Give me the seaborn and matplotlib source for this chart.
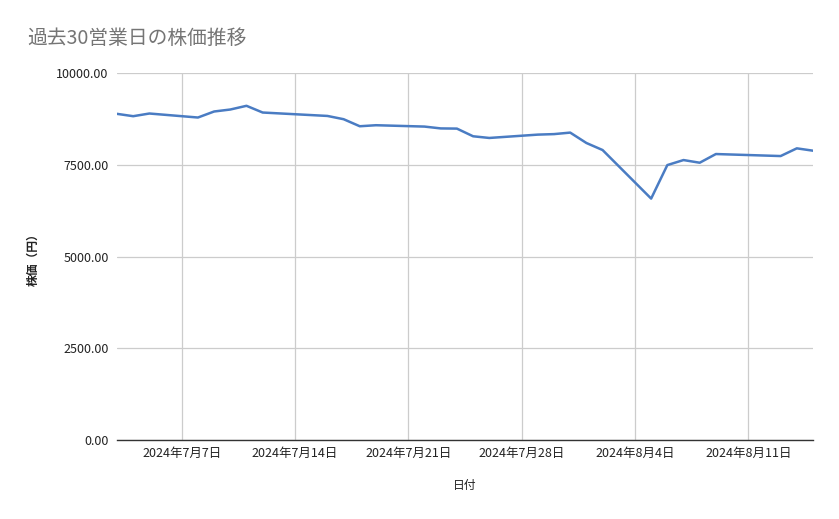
import matplotlib
matplotlib.use("Agg")
import matplotlib.pyplot as plt
import seaborn as sns
import pandas as pd

dates = [
    "2024-07-03", "2024-07-04", "2024-07-05",
    "2024-07-08", "2024-07-09", "2024-07-10", "2024-07-11", "2024-07-12",
    "2024-07-16", "2024-07-17", "2024-07-18", "2024-07-19",
    "2024-07-22", "2024-07-23", "2024-07-24", "2024-07-25", "2024-07-26",
    "2024-07-29", "2024-07-30", "2024-07-31", "2024-08-01", "2024-08-02",
    "2024-08-05", "2024-08-06", "2024-08-07", "2024-08-08", "2024-08-09",
    "2024-08-13", "2024-08-14", "2024-08-15",
]
prices = [
    8887, 8823, 8896,
    8787, 8951, 9005, 9106, 8923,
    8830, 8741, 8549, 8577,
    8540, 8490, 8485, 8276, 8230,
    8321, 8335, 8376, 8093, 7901,
    6578, 7491, 7628, 7555, 7792,
    7737, 7947, 7883,
]
tick_dates = ["2024-07-07", "2024-07-14", "2024-07-21", "2024-07-28", "2024-08-04", "2024-08-11"]
y_ticks = [0, 2500, 5000, 7500, 10000]

title = "過去30営業日の株価推移"
x_label = "日付"
y_label = "株価（円）"

df = pd.DataFrame({"日付": pd.to_datetime(dates), "株価": prices})

sns.set_theme(style="white")
plt.rcParams["font.family"] = ["Noto Sans CJK JP", "DejaVu Sans"]

fig = plt.figure(figsize=(8.39, 5.19), dpi=100)
ax = fig.add_axes([117 / 839, 79 / 519, 696 / 839, 367 / 519])

sns.lineplot(data=df, x="日付", y="株価", ax=ax, color="#4a7cc3", linewidth=1.8)

ax.set_xlim(df["日付"].min(), df["日付"].max())
ax.set_ylim(0, 10000)
ax.set_yticks(y_ticks)
ax.set_yticklabels([f"{v:.2f}" for v in y_ticks])
tds = pd.to_datetime(tick_dates)
ax.set_xticks(tds)
ax.set_xticklabels([f"{d.year}年{d.month}月{d.day}日" for d in tds])

ax.grid(True, color="#cccccc", linewidth=0.9)
ax.set_axisbelow(True)
for s in ["top", "right", "left"]:
    ax.spines[s].set_visible(False)
ax.spines["bottom"].set_color("#333333")
ax.spines["bottom"].set_linewidth(1.0)
ax.tick_params(axis="both", length=0, labelsize=9, colors="#222222")
ax.tick_params(axis="y", pad=6)
ax.tick_params(axis="x", pad=5)

ax.set_xlabel(x_label, fontsize=8.5, color="#222222", labelpad=14)
ax.set_ylabel(y_label, fontsize=8.5, color="#222222", fontweight="bold", labelpad=12)

fig.text(27 / 839, 1 - 38 / 519, title, fontsize=14.2, color="#757575", va="center", ha="left")

fig.savefig("out.png", dpi=100)
